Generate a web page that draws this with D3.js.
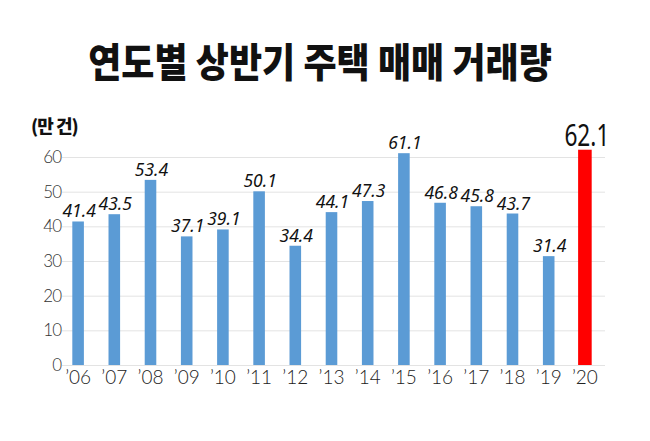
<!DOCTYPE html>
<html>
<head>
<meta charset="utf-8">
<script src="https://cdn.jsdelivr.net/npm/d3@7"></script>
<style>
  body { margin: 0; background: #fff; }
  svg { display: block; }
</style>
</head>
<body>
<div id="container"></div>
<script>
/* CONSTANTS AND GLOBALS */
const width = 650,
  height = 441,
  margin = {top: 157, left: 60, bottom: 76, right: 47};

/* DATA */
const years = ["’06", "’07", "’08", "’09", "’10", "’11", "’12", "’13", "’14", "’15", "’16", "’17", "’18", "’19", "’20"];
const volumes = [41.4, 43.5, 53.4, 37.1, 39.1, 50.1, 34.4, 44.1, 47.3, 61.1, 46.8, 45.8, 43.7, 31.4, 62.1];
const yTicks = [0, 10, 20, 30, 40, 50, 60];
const title = "연도별 상반기 주택 매매 거래량";
const unitLabel = "(만 건)";

const data = years.map((y, i) => ({year: y, value: volumes[i], last: i === years.length - 1}));

// SCALES
const xScale = d3.scaleBand()
  .domain(years)
  .range([margin.left, width - margin.right])
  .paddingInner(0.68)
  .paddingOuter(0.34)

const yScale = d3.scaleLinear()
  .domain([0, 60])
  .range([height - margin.bottom, margin.top])

// CREATE SVG ELEMENT
const svg = d3.select("#container")
  .append("svg")
  .attr("width", width)
  .attr("height", height)

// title (glyphs in the original are a tall, tight gothic)
svg.append("text")
  .attr("transform", "translate(320,77) scale(1,1.12)")
  .attr("text-anchor", "middle")
  .attr("font-family", "'Noto Sans CJK KR', sans-serif")
  .attr("font-weight", 900)
  .attr("font-size", 36)
  .attr("fill", "#111")
  .text(title)

// unit
svg.append("text")
  .attr("x", 31)
  .attr("y", 133)
  .attr("font-family", "'Noto Sans CJK KR', sans-serif")
  .attr("font-weight", 900)
  .attr("font-size", 18)
  .attr("letter-spacing", -1)
  .attr("fill", "#111")
  .text(unitLabel)

// Y AXIS + gridlines
const yAxis = d3.axisLeft(yScale)
  .tickValues(yTicks)
  .tickSize(-(width - margin.right - margin.left))
  .tickPadding(1)

svg.append("g")
  .attr("class", "y-axis")
  .attr("transform", `translate(${margin.left + 2},0)`)
  .call(yAxis)
  .call(g => g.select(".domain").remove())
  .call(g => g.selectAll("line").attr("stroke", "#e3e3e3").attr("stroke-width", 1))
  .call(g => g.selectAll("text")
    .attr("font-family", "Lato, sans-serif")
    .attr("font-weight", 300)
    .attr("font-size", 17)
    .attr("letter-spacing", -1)
    .attr("fill", "#333"))

// X AXIS
const xAxis = d3.axisBottom(xScale).tickSize(0).tickPadding(5)

svg.append("g")
  .attr("class", "x-axis")
  .attr("transform", `translate(0,${height - margin.bottom})`)
  .call(xAxis)
  .call(g => g.select(".domain").remove())
  .call(g => g.selectAll("text")
    .attr("font-family", "Lato, sans-serif")
    .attr("font-weight", 300)
    .attr("font-size", 19)
    .attr("fill", "#222"))

// BARS
svg.selectAll(".bar")
  .data(data)
  .join("rect")
  .attr("class", "bar")
  .attr("x", d => d.last ? xScale(d.year) - 1 : xScale(d.year))
  .attr("width", d => d.last ? xScale.bandwidth() + 2 : xScale.bandwidth())
  .attr("y", d => yScale(d.value))
  .attr("height", d => yScale(0) - yScale(d.value))
  .attr("fill", d => d.last ? "#ff0000" : "#5b9bd5")

// VALUE LABELS
svg.selectAll(".label")
  .data(data.filter(d => !d.last))
  .join("text")
  .attr("class", "label")
  .attr("x", d => xScale(d.year) + xScale.bandwidth() / 2 + 1)
  .attr("y", d => yScale(d.value) - 4)
  .attr("text-anchor", "middle")
  .attr("font-family", "'Noto Sans', sans-serif")
  .attr("font-style", "italic")
  .attr("font-weight", 400)
  .attr("font-size", 17.5)
  .attr("fill", "#111")
  .text(d => d.value.toFixed(1))

// highlighted last value, larger and upright
const lastD = data[data.length - 1]
svg.append("text")
  .attr("x", xScale(lastD.year) + xScale.bandwidth() / 2 + 2)
  .attr("y", yScale(lastD.value) - 4)
  .attr("text-anchor", "middle")
  .attr("font-family", "'Noto Sans', sans-serif")
  .attr("font-size", 31)
  .attr("textLength", 45)
  .attr("lengthAdjust", "spacingAndGlyphs")
  .attr("fill", "#111")
  .text(lastD.value.toFixed(1))
</script>
</body>
</html>
